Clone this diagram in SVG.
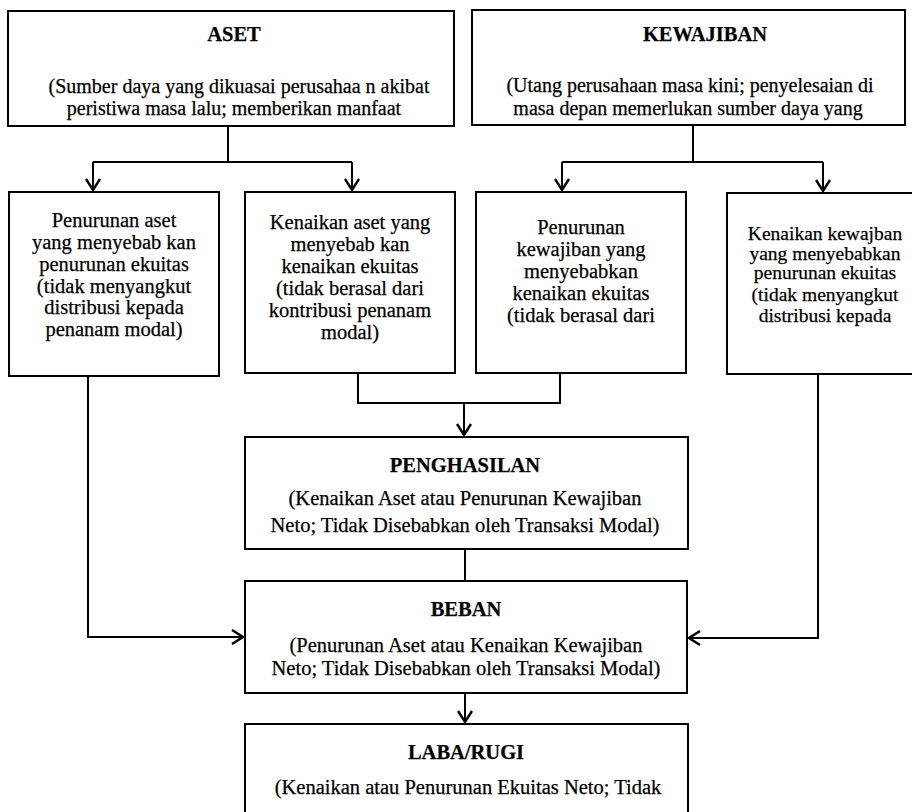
<svg xmlns="http://www.w3.org/2000/svg" width="912" height="812" viewBox="0 0 912 812">
<defs>
<marker id="arr" markerWidth="16" markerHeight="16" viewBox="-14 -8 16 16" refX="0" refY="0" orient="auto" markerUnits="userSpaceOnUse">
<path d="M-11,-7 L0,0 L-11,7" fill="none" stroke="#000" stroke-width="2.4"/>
</marker>
<style>
.box{fill:#fff;stroke:#000;stroke-width:2}
.t{font-family:"Liberation Serif","Times New Roman",serif;font-size:20.5px;fill:#000;text-anchor:middle;stroke:#000;stroke-width:0.25}
.h{font-size:20px}
.s{font-size:19.5px}
.b{font-weight:bold;font-size:20.5px}
.c{fill:none;stroke:#000;stroke-width:2}
</style>
</defs>
<rect width="912" height="812" fill="#fff"/>
<g id="aset">
<rect class="box" x="8" y="11" width="446" height="115"/>
<text class="t b" x="234" y="41">ASET</text>
<text class="t h" x="239" y="93">(Sumber daya yang dikuasai perusahaa n akibat</text>
<text class="t h" x="234" y="115">peristiwa masa lalu; memberikan manfaat</text>
</g>
<g id="kewajiban">
<rect class="box" x="472" y="10" width="433" height="115"/>
<text class="t b" x="705" y="41">KEWAJIBAN</text>
<text class="t h" x="690" y="92">(Utang perusahaan masa kini; penyelesaian di</text>
<text class="t h" x="688" y="115">masa depan memerlukan sumber daya yang</text>
</g>
<g id="penurunan-aset">
<rect class="box" x="9" y="192" width="210" height="184"/>
<text class="t" x="114" y="227">Penurunan aset</text>
<text class="t" x="114" y="249">yang menyebab kan</text>
<text class="t" x="114" y="271">penurunan ekuitas</text>
<text class="t" x="114" y="293">(tidak menyangkut</text>
<text class="t" x="114" y="314">distribusi kepada</text>
<text class="t" x="114" y="336">penanam modal)</text>
</g>
<g id="kenaikan-aset">
<rect class="box" x="245" y="192" width="210" height="181"/>
<text class="t" x="350" y="229">Kenaikan aset yang</text>
<text class="t" x="350" y="251">menyebab kan</text>
<text class="t" x="350" y="273">kenaikan ekuitas</text>
<text class="t" x="350" y="295">(tidak berasal dari</text>
<text class="t" x="350" y="317">kontribusi penanam</text>
<text class="t" x="350" y="339">modal)</text>
</g>
<g id="penurunan-kewajiban">
<rect class="box" x="476" y="192" width="210" height="181"/>
<text class="t" x="581" y="234">Penurunan</text>
<text class="t" x="581" y="256">kewajiban yang</text>
<text class="t" x="581" y="278">menyebabkan</text>
<text class="t" x="581" y="300">kenaikan ekuitas</text>
<text class="t" x="581" y="322">(tidak berasal dari</text>
</g>
<g id="kenaikan-kewajiban">
<rect class="box" x="727" y="193" width="190" height="181"/>
<text class="t s" x="825" y="240">Kenaikan kewajban</text>
<text class="t s" x="825" y="260">yang menyebabkan</text>
<text class="t s" x="825" y="279">penurunan ekuitas</text>
<text class="t s" x="825" y="301">(tidak menyangkut</text>
<text class="t s" x="825" y="322">distribusi kepada</text>
</g>
<g id="penghasilan">
<rect class="box" x="245" y="437" width="443" height="112"/>
<text class="t b" x="465" y="472">PENGHASILAN</text>
<text class="t" x="465" y="505">(Kenaikan Aset atau Penurunan Kewajiban</text>
<text class="t" x="465" y="532">Neto; Tidak Disebabkan oleh Transaksi Modal)</text>
</g>
<g id="beban">
<rect class="box" x="245" y="581" width="442" height="112"/>
<text class="t b" x="466" y="616">BEBAN</text>
<text class="t" x="466" y="652">(Penurunan Aset atau Kenaikan Kewajiban</text>
<text class="t" x="466" y="675">Neto; Tidak Disebabkan oleh Transaksi Modal)</text>
</g>
<g id="laba-rugi">
<rect class="box" x="245" y="724" width="443" height="100"/>
<text class="t b" x="466" y="759">LABA/RUGI</text>
<text class="t" x="468" y="794">(Kenaikan atau Penurunan Ekuitas Neto; Tidak</text>
</g>
<g id="connectors">
<path class="c" d="M228,126 V162 M93,162 H352"/>
<path class="c" d="M93,162 V190" marker-end="url(#arr)"/>
<path class="c" d="M352,162 V190" marker-end="url(#arr)"/>
<path class="c" d="M693,125 V162 M562,162 H823"/>
<path class="c" d="M562,162 V190" marker-end="url(#arr)"/>
<path class="c" d="M823,162 V191" marker-end="url(#arr)"/>
<path class="c" d="M358,373 V403 H560 V373"/>
<path class="c" d="M464,403 V435" marker-end="url(#arr)"/>
<path class="c" d="M88,376 V637 H243" marker-end="url(#arr)"/>
<path class="c" d="M818,374 V638 H689" marker-end="url(#arr)"/>
<path class="c" d="M465,549 V581"/>
<path class="c" d="M465,693 V722" marker-end="url(#arr)"/>
</g>
</svg>
